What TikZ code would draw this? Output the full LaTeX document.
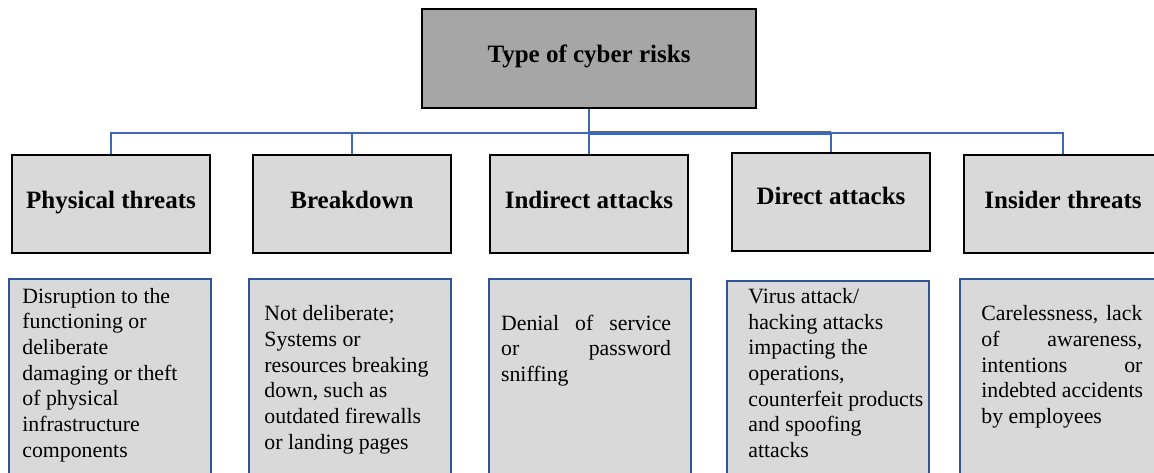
\documentclass[tikz,border=0pt]{standalone}
\usepackage{fontspec}
\setmainfont{Liberation Serif}
\definecolor{linkblue}{RGB}{64,104,176}
\definecolor{edgeblue}{RGB}{47,85,151}
\definecolor{rootgray}{RGB}{166,166,166}
\definecolor{boxgray}{RGB}{217,217,217}
\tikzset{
  rootbox/.style={draw=black, fill=rootgray, line width=1pt, inner sep=0pt,
    minimum width=167pt, minimum height=49.5pt,
    font=\fontsize{12.5}{15}\selectfont\bfseries, text height=9pt, text depth=5pt},
  catbox/.style={draw=black, fill=boxgray, line width=1pt, inner sep=0pt,
    minimum width=99pt, minimum height=48.8pt,
    font=\fontsize{12.5}{15}\selectfont\bfseries, text height=9pt, text depth=5pt},
  descbox/.style={draw=edgeblue, fill=boxgray, line width=1pt, anchor=north,
    minimum width=101pt, minimum height=110pt},
  desctext/.style={anchor=north west, inner sep=0pt, align=left,
    font=\fontsize{10.9}{12.85}\selectfont},
  link/.style={draw=linkblue, line width=0.9pt}
}
\begin{document}
\begin{tikzpicture}[x=0.5pt,y=-0.5pt]
\useasboundingbox (0,0) rectangle (1154,472);
\clip (0,0) rectangle (1154,472);
% top and category boxes
\node[rootbox] (root) at (589,58.5) {Type of cyber risks};
\node[catbox] (phys) at (111,204) {Physical threats};
\node[catbox] (brk) at (352,204) {Breakdown};
\node[catbox] (indir) at (589,204) {Indirect attacks};
\node[catbox, text depth=7pt] (direct) at (831,202) {Direct attacks};
\node[catbox] (insider) at (1063,204) {Insider threats};
% connectors
\coordinate (hub) at (589,133);
\draw[link] (root.south) -- (hub);
\draw[link] (hub) -| (phys.north);
\draw[link] (hub) -| (brk.north);
\draw[link] (hub) -- (indir.north);
\draw[link] (hub) -| (direct.north);
\draw[link] (hub) -| (insider.north);
\draw[link, line width=1.7pt] (hub) -- (hub -| direct.north);
% description boxes
\node[descbox] (dphys) at (110,278.3) {};
\node[descbox] (dbrk) at (350,277.5) {};
\node[descbox] (dindir) at (590,277.5) {};
\node[descbox] (ddirect) at (827.6,280) {};
\node[descbox] (dinsider) at (1061,277.5) {};
\node[desctext] (tphys) at (22,287.5) {Disruption to the\\functioning or\\deliberate\\damaging or theft\\of physical\\infrastructure\\components};
\node[desctext] (tbrk) at (264,305.2) {Not deliberate;\\Systems or\\resources breaking\\down, such as\\outdated firewalls\\or landing pages};
\node[desctext] (tindir) at (500.7,314.5) {\makebox[85pt][s]{Denial of service}\\\makebox[85pt][s]{or password}\\sniffing};
\node[desctext] (tdirect) at (748,287.9) {Virus attack/\\hacking attacks\\impacting the\\operations,\\counterfeit products\\and spoofing\\attacks};
\node[desctext] (tinsider) at (981,305.2) {\makebox[80.5pt][s]{Carelessness, lack}\\\makebox[80.5pt][s]{of awareness,}\\\makebox[80.5pt][s]{intentions or}\\indebted accidents\\by employees};
\end{tikzpicture}
\end{document}
